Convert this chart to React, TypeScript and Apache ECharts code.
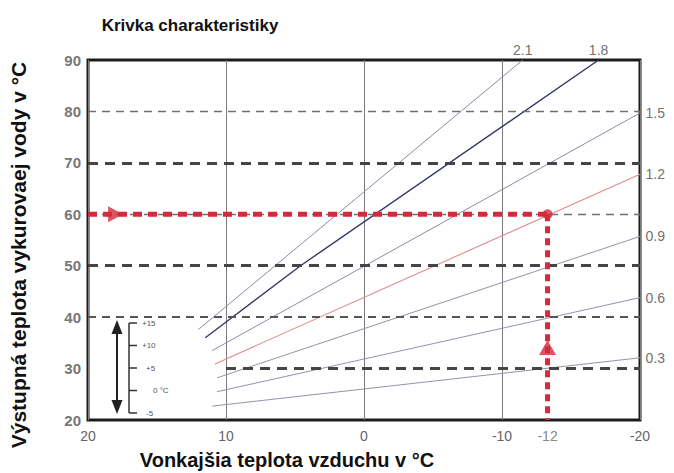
import React, { useEffect, useRef } from "react";
import * as echarts from "echarts";

const FONT = "'Liberation Sans', Arial, Helvetica, sans-serif";

// Axes
const xTicks = [20, 10, 0, -10, -20];
const yTicks = [20, 30, 40, 50, 60, 70, 80, 90];

// Heating curves (outdoor temp °C, flow temp °C)
const curveNames = ["2.1", "1.8", "1.5", "1.2", "0.9", "0.6", "0.3"];
const curve21 = [[12.0, 37.6], [-11.5, 90]];
const curve18 = [[11.5, 36.0], [4.6, 50], [-17.0, 90]];
const curve15 = [[11.0, 33.5], [-20, 79.7]];
const curve12 = [[10.8, 30.9], [-20, 67.8]];
const curve09 = [[10.65, 28.2], [-20, 55.7]];
const curve06 = [[10.65, 25.5], [-20, 43.8]];
const curve03 = [[11.0, 22.7], [-20, 32.1]];
const curves = [curve21, curve18, curve15, curve12, curve09, curve06, curve03];

// Dashed reference levels
const dashLevels = [80, 70, 60, 50, 40, 30];
const dashFrom = [20, 20, 20, 20, 20, 10];
const heavyLevels = [70, 50, 30];

// Example reading
const readingX = -13.3;
const readingLabel = "-12";
const readingY = 60;
const parallelShiftY = 34.1;
const arrowStartX = 18.0;

// Inset legend scale
const insetLabels = ["+15", "+10", "+5", "0 °C", "-5"];

export default function App() {
  const ref = useRef<HTMLDivElement>(null);
  useEffect(() => {
    if (!ref.current) return;
    const chart = echarts.init(ref.current, null, { renderer: "svg" });

    const curveColors = ["#8a8aa8", "#34376a", "#8a8aa8", "#e08c8c", "#9292ae", "#9292ae", "#9292ae"];
    const curveWidths = [1, 1.4, 1, 1.1, 1, 1, 1];

    const curveSeries = curves.map((c, i) => ({
      type: "line",
      name: curveNames[i],
      data: c,
      showSymbol: false,
      symbol: "none",
      lineStyle: { color: curveColors[i], width: curveWidths[i] },
      z: 3,
      silent: true,
    }));

    const dashData = dashLevels.map((lv, i) => {
      const heavy = heavyLevels.includes(lv);
      return [
        {
          coord: [dashFrom[i], lv],
          lineStyle: {
            color: heavy ? "#454545" : lv === 40 ? "#555" : "#707070",
            width: heavy ? 2.8 : lv === 40 ? 2 : 1.4,
            type: heavy ? [10, 7] : [8, 6],
          },
        },
        { coord: [-20, lv] },
      ];
    });

    const labelData = curves.map((c, i) => {
      const last = c[c.length - 1];
      const top = i < 2;
      return {
        value: last,
        name: curveNames[i],
        label: {
          show: true,
          formatter: curveNames[i],
          position: top ? "top" : "right",
          distance: top ? 3 : 5,
          color: "#4a4a4a",
          fontSize: 14,
          fontFamily: FONT,
        },
      };
    });

    const inset: any[] = [];
    const ix = 129;
    const iyTop = 323;
    const iyStep = 22.5;
    inset.push({
      type: "line",
      shape: { x1: ix, y1: iyTop, x2: ix, y2: iyTop + iyStep * 4 },
      style: { stroke: "#333", lineWidth: 1.5 },
    });
    insetLabels.forEach((t, i) => {
      const y = iyTop + iyStep * i;
      inset.push({
        type: "line",
        shape: { x1: ix, y1: y, x2: ix + 8, y2: y },
        style: { stroke: "#333", lineWidth: 1.5 },
      });
      inset.push({
        type: "text",
        x: t === "0 °C" ? ix + 24 : ix + 13 + (t.length < 3 ? 4 : 0),
        y,
        style: { text: t, fill: "#555", fontSize: 8, fontFamily: FONT, textVerticalAlign: "middle" },
      });
    });
    inset.push({
      type: "line",
      shape: { x1: 117, y1: 330, x2: 117, y2: 405 },
      style: { stroke: "#222", lineWidth: 2 },
    });
    inset.push({
      type: "polygon",
      shape: { points: [[117, 320], [111.5, 334], [122.5, 334]] },
      style: { fill: "#222" },
    });
    inset.push({
      type: "polygon",
      shape: { points: [[117, 414], [111.5, 400], [122.5, 400]] },
      style: { fill: "#222" },
    });

    const red = "#d42a3c";

    const option: any = {
      animation: false,
      textStyle: { fontFamily: FONT },
      grid: {
        left: 88,
        right: 34,
        top: 60,
        bottom: 53,
        show: true,
        borderColor: "#1c1c1c",
        borderWidth: 3,
        backgroundColor: "#fff",
      },
      xAxis: {
        type: "value",
        min: xTicks[xTicks.length - 1],
        max: xTicks[0],
        interval: 10,
        inverse: true,
        axisLine: { show: false },
        axisTick: { show: false },
        splitLine: { show: true, lineStyle: { color: "#7a7a7a", width: 1 } },
        axisLabel: { margin: 9, color: "#666", fontSize: 14, fontFamily: FONT },
      },
      yAxis: {
        type: "value",
        min: yTicks[0],
        max: yTicks[yTicks.length - 1],
        interval: 10,
        axisLine: { show: false },
        axisTick: { show: false },
        splitLine: { show: false },
        axisLabel: { margin: 7, color: "#777", fontSize: 15, fontWeight: "bold", fontFamily: FONT },
      },
      series: [
        {
          type: "line",
          data: [],
          silent: true,
          z: 2,
          markLine: {
            silent: true,
            symbol: ["none", "none"],
            label: { show: false },
            data: dashData,
          },
        },
        ...curveSeries,
        {
          type: "scatter",
          data: labelData,
          symbolSize: 1,
          itemStyle: { color: "rgba(0,0,0,0)" },
          silent: true,
          z: 4,
        },
        {
          type: "line",
          data: [[xTicks[0], readingY], [readingX, readingY]],
          showSymbol: false,
          symbol: "none",
          lineStyle: { color: red, width: 5, type: [9, 6] },
          z: 5,
          silent: true,
        },
        {
          type: "line",
          data: [[readingX, readingY], [readingX, yTicks[0]]],
          showSymbol: false,
          symbol: "none",
          lineStyle: { color: red, width: 5, type: [7, 5] },
          z: 5,
          silent: true,
        },
        {
          type: "scatter",
          silent: true,
          z: 6,
          itemStyle: { color: red },
          data: [
            { value: [arrowStartX, readingY], symbol: "triangle", symbolSize: [16, 15], symbolRotate: -90 },
            { value: [readingX, readingY], symbol: "circle", symbolSize: 10 },
            { value: [readingX, parallelShiftY], symbol: "triangle", symbolSize: [17, 15] },
          ],
        },
        {
          type: "scatter",
          silent: true,
          z: 6,
          symbolSize: 1,
          itemStyle: { color: "rgba(0,0,0,0)" },
          data: [
            {
              value: [readingX, yTicks[0]],
              label: {
                show: true,
                formatter: readingLabel,
                position: "bottom",
                distance: 8,
                color: "#666",
                fontSize: 14,
                fontFamily: FONT,
              },
            },
          ],
        },
      ],
      graphic: [
        {
          type: "text",
          x: 190,
          y: 25,
          style: {
            text: "Krivka charakteristiky",
            fill: "#111",
            fontSize: 17,
            fontWeight: "bold",
            fontFamily: FONT,
            textAlign: "center",
            textVerticalAlign: "middle",
          },
        },
        {
          type: "text",
          x: 287,
          y: 460,
          style: {
            text: "Vonkajšia teplota vzduchu v °C",
            fill: "#111",
            fontSize: 20,
            fontWeight: "bold",
            fontFamily: FONT,
            textAlign: "center",
            textVerticalAlign: "middle",
          },
        },
        {
          type: "text",
          x: 18,
          y: 255,
          rotation: Math.PI / 2,
          style: {
            text: "Výstupná teplota vykurovaej vody v °C",
            fill: "#111",
            fontSize: 21,
            fontWeight: "bold",
            fontFamily: FONT,
            textAlign: "center",
            textVerticalAlign: "middle",
          },
        },
        ...inset,
      ],
    };

    chart.setOption(option);
    return () => chart.dispose();
  }, []);

  return <div ref={ref} style={{ width: 674, height: 473, position: "absolute", left: 0, top: 0 }} />;
}
